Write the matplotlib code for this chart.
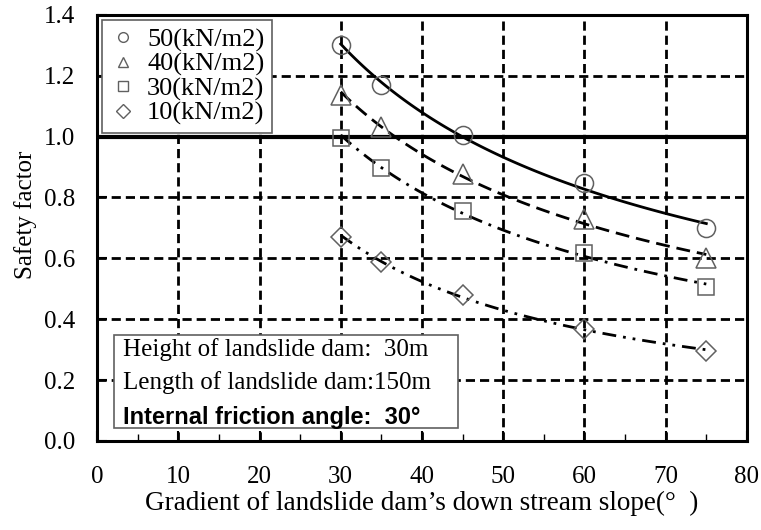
import numpy as np
import matplotlib.pyplot as plt
from matplotlib.lines import Line2D

# gradient of down stream slope (deg)
slope = np.array([30, 35, 45, 60, 75])

# safety factor for each cohesion
sf_50 = [1.30, 1.17, 1.005, 0.848, 0.70]
sf_40 = [1.137, 1.03, 0.877, 0.73, 0.60]
sf_30 = [0.996, 0.897, 0.756, 0.618, 0.506]
sf_10 = [0.67, 0.588, 0.48, 0.368, 0.296]

labels = ['50(kN/m2)', '40(kN/m2)', '30(kN/m2)', '10(kN/m2)']
markers = ['o', '^', 's', 'D']
msizes = [13, 14, 12, 10]
styles = ['-', (0, (5, 2.5)), (0, (5, 2.5, 1, 2.5)), (0, (5, 2.5, 1, 2.5, 1, 2.5))]

plt.rcParams['font.family'] = ['Liberation Serif', 'DejaVu Serif']
fs = 18

fig = plt.figure(figsize=(7.61, 5.30), dpi=100)
ax = fig.add_axes([0.1275, 0.168, 0.854, 0.804])

xs = np.linspace(30, 75, 100)
for sf, m, ms, ls in zip([sf_50, sf_40, sf_30, sf_10], markers, msizes, styles):
    # power-law trend line through the points
    b, a = np.polyfit(np.log(slope), np.log(sf), 1)
    ax.plot(xs, np.exp(a) * xs ** b, color='black', lw=2, linestyle=ls, zorder=3)
    ax.plot(slope, sf, linestyle='none', marker=m, ms=ms, mfc='none', mec='#606060',
            mew=1.1, zorder=4)

ax.set_xlim(0, 80)
ax.set_ylim(0, 1.4)
ax.set_xticks(np.arange(0, 81, 10))
ax.set_xticks(np.arange(5, 80, 10), minor=True)
yt = np.arange(0, 1.41, 0.2)
ax.set_yticks(yt)
ax.set_yticklabels(['%.1f' % v for v in yt])

grid_ls = (0, (3.3, 1.8))
for x in range(10, 80, 10):
    ax.axvline(x, color='black', lw=2, linestyle=grid_ls, zorder=1)
for y in [0.2, 0.4, 0.6, 0.8, 1.2]:
    ax.axhline(y, color='black', lw=2, linestyle=grid_ls, zorder=1)
ax.axhline(1.0, color='black', lw=3, zorder=2)

ax.tick_params(which='both', direction='in', labelsize=fs)
ax.tick_params(which='major', length=7, width=1.5)
ax.tick_params(which='minor', length=5, width=1)
ax.tick_params(axis='x', pad=18)
ax.tick_params(axis='y', pad=16)
for sp in ax.spines.values():
    sp.set_linewidth(2.2)

ax.set_ylabel('Safety factor', fontsize=fs)
ax.yaxis.set_label_coords(-0.092, 0.53)
ax.set_xlabel('Gradient of landslide dam\u2019s down stream slope(\u00b0  )', fontsize=19.5, labelpad=2)

handles = [Line2D([], [], linestyle='none', marker=m, ms=7, mfc='none', mec='#606060', mew=1)
           for m in markers]
leg = ax.legend(handles, labels, loc='upper left', fontsize=19, frameon=True, fancybox=False,
                handletextpad=0.4, handlelength=1.0, borderaxespad=0.2,
                labelspacing=0.02, borderpad=0.3, framealpha=1)
leg.get_frame().set_edgecolor('#606060')
leg.get_frame().set_linewidth(1.2)
leg.set_zorder(10)

ax.text(0.04, 0.214, 'Height of landslide dam:  30m', transform=ax.transAxes,
        fontsize=fs, va='center', ha='left', zorder=6)
ax.text(0.04, 0.136, 'Length of landslide dam:150m', transform=ax.transAxes,
        fontsize=fs, va='center', ha='left', zorder=6)
ax.text(0.04, 0.054, 'Internal friction angle:  30\u00b0', transform=ax.transAxes,
        fontsize=17, fontweight='bold', family=['Liberation Sans', 'DejaVu Sans'],
        va='center', ha='left', zorder=6)
box = plt.Rectangle((0.026, 0.031), 0.53, 0.218, transform=ax.transAxes,
                    facecolor='white', edgecolor='#606060', lw=1.2, zorder=5)
ax.add_patch(box)

fig.savefig('out.png', dpi=100)
